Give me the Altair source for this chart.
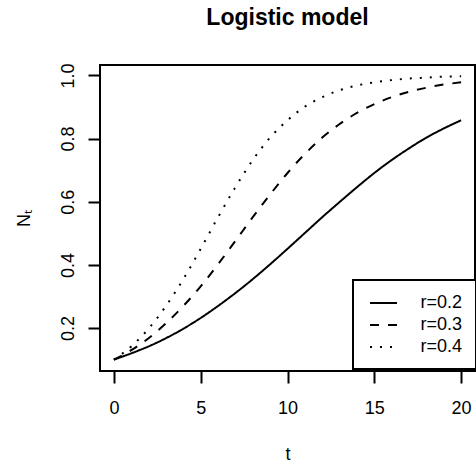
import altair as alt
import pandas as pd

# Time steps
t_vals = list(range(21))

# Logistic growth curves (N_t at each t)
n_r02 = [0.100, 0.120, 0.142, 0.168, 0.198, 0.232, 0.270, 0.311, 0.355, 0.402, 0.451,
         0.501, 0.551, 0.599, 0.646, 0.691, 0.732, 0.769, 0.803, 0.832, 0.858]
n_r03 = [0.100, 0.130, 0.168, 0.215, 0.270, 0.332, 0.402, 0.476, 0.551, 0.623, 0.691,
         0.751, 0.803, 0.846, 0.881, 0.909, 0.931, 0.948, 0.961, 0.971, 0.978]
n_r04 = [0.100, 0.142, 0.198, 0.270, 0.355, 0.451, 0.551, 0.646, 0.732, 0.803, 0.858,
         0.901, 0.931, 0.953, 0.968, 0.978, 0.985, 0.990, 0.993, 0.996, 0.997]

series_names = ["r=0.2", "r=0.3", "r=0.4"]
x_ticks = [0, 5, 10, 15, 20]
y_ticks = [0.2, 0.4, 0.6, 0.8, 1.0]

rows = []
for name, vals in zip(series_names, [n_r02, n_r03, n_r04]):
    for t, v in zip(t_vals, vals):
        rows.append({"t": t, "N": v, "series": name})
df = pd.DataFrame(rows)

FONT = "Liberation Sans"

chart = alt.Chart(df).mark_line(
    color="black", strokeWidth=2, interpolate="monotone", strokeCap="butt"
).encode(
    x=alt.X("t:Q",
            scale=alt.Scale(domain=[-0.8, 20.8], nice=False, zero=False),
            axis=alt.Axis(values=x_ticks, format="d", title="t",
                          titleY=88, titleBaseline="alphabetic",
                          labelPadding=16, labelBaseline="top")),
    y=alt.Y("N:Q",
            scale=alt.Scale(domain=[0.0641, 1.0329], nice=False, zero=False),
            axis=alt.Axis(values=y_ticks, format=".1f", title="Nₜ",
                          labelAngle=270, labelAlign="center",
                          labelBaseline="alphabetic", labelPadding=15,
                          titleAngle=270, titleX=-71, titleY=153,
                          titleAlign="center", titleBaseline="alphabetic")),
    strokeDash=alt.StrokeDash(
        "series:N",
        scale=alt.Scale(domain=series_names, range=[[1, 0], [9, 9], [2, 8]]),
        legend=alt.Legend(
            title=None, orient="none", legendX=253, legendY=215,
            symbolType="M-1.5,0H1.5", symbolSize=324, symbolStrokeWidth=2,
            symbolStrokeColor="black", symbolFillColor="transparent",
            labelFontSize=18, labelFont=FONT, labelColor="black",
            padding=13, rowPadding=3, symbolOffset=7.5, labelOffset=27,
            strokeColor="black", fillColor="white", cornerRadius=0,
        ),
    ),
).properties(
    width=375,
    height=306,
    background="white",
    title=alt.TitleParams("Logistic model", fontSize=23, fontWeight="bold",
                          font=FONT, color="black", anchor="middle",
                          frame="group", baseline="alphabetic", offset=15),
    autosize=alt.AutoSizeParams(type="none"),
    padding={"left": 100, "top": 65, "right": 1, "bottom": 95},
).configure_view(
    stroke="black", strokeWidth=2
).configure_axis(
    domain=False, grid=False, tickColor="black", tickWidth=2, tickSize=12,
    labelColor="black", labelFont=FONT, labelFontSize=18,
    titleColor="black", titleFont=FONT, titleFontSize=18, titleFontWeight="normal",
).configure_legend(
    strokeWidth=2
)

chart.save("out.html", embed_options={"renderer": "svg", "actions": False})
